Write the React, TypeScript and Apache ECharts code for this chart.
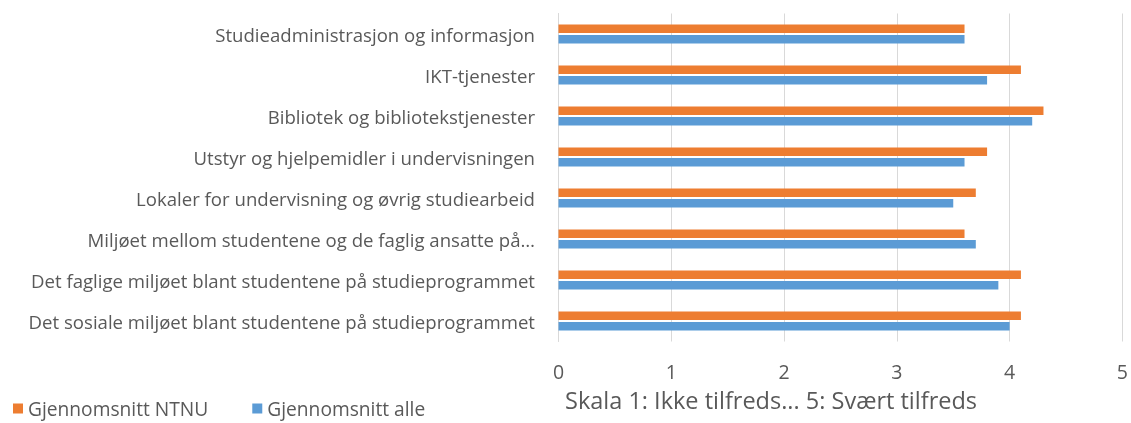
import React, { useEffect, useRef } from "react";
import * as echarts from "echarts";

const categories = [
  "Det sosiale miljøet blant studentene på studieprogrammet",
  "Det faglige miljøet blant studentene på studieprogrammet",
  "Miljøet mellom studentene og de faglig ansatte på…",
  "Lokaler for undervisning og øvrig studiearbeid",
  "Utstyr og hjelpemidler i undervisningen",
  "Bibliotek og bibliotekstjenester",
  "IKT-tjenester",
  "Studieadministrasjon og informasjon",
];
const ntnu = [4.1, 4.1, 3.6, 3.7, 3.8, 4.3, 4.1, 3.6];
const alle = [4.0, 3.9, 3.7, 3.5, 3.6, 4.2, 3.8, 3.6];
const seriesNames = ["Gjennomsnitt NTNU", "Gjennomsnitt alle"];
const axisTitle = "Skala 1: Ikke tilfreds... 5: Svært tilfreds";
const FONT = "Open Sans";
const TEXT = "#595959";

export default function App() {
  const ref = useRef<HTMLDivElement>(null);
  useEffect(() => {
    const chart = echarts.init(ref.current!, undefined, { renderer: "svg" });
    chart.setOption({
      animation: false,
      textStyle: { fontFamily: FONT, color: TEXT },
      title: {
        text: axisTitle,
        left: 565,
        top: 388,
        padding: 0,
        textStyle: { fontFamily: FONT, fontSize: 23.5, fontWeight: "normal", color: TEXT },
      },
      legend: {
        data: seriesNames,
        left: 13,
        top: 399,
        padding: 0,
        icon: "rect",
        itemWidth: 10,
        itemHeight: 10,
        itemGap: 44,
        textStyle: { fontFamily: FONT, fontSize: 19.2, color: TEXT },
      },
      grid: { left: 558.5, right: 8, top: 13.5, bottom: 81.5, containLabel: false },
      xAxis: {
        type: "value",
        min: 0,
        max: 5,
        interval: 1,
        axisLine: { show: false },
        axisTick: { show: false },
        splitLine: { show: true, lineStyle: { color: "#d9d9d9", width: 1 } },
        axisLabel: { fontFamily: FONT, fontSize: 19.5, color: TEXT, margin: 20 },
      },
      yAxis: {
        type: "category",
        data: categories,
        axisLine: { show: true, lineStyle: { color: "#d9d9d9" } },
        axisTick: { show: false },
        axisLabel: {
          fontFamily: FONT,
          fontSize: 18.6,
          color: TEXT,
          margin: 23.5,
        },
      },
      series: [
        {
          name: seriesNames[0],
          type: "bar",
          data: ntnu,
          barWidth: 8.5,
          barGap: "25%",
          itemStyle: { color: "#ED7D31" },
        },
        {
          name: seriesNames[1],
          type: "bar",
          data: alle,
          barWidth: 8.5,
          barGap: "25%",
          itemStyle: { color: "#5B9BD5" },
        },
      ],
    });
    return () => chart.dispose();
  }, []);
  return (
    <div
      ref={ref}
      style={{ position: "fixed", left: 0, top: 0, width: 1131, height: 423 }}
    />
  );
}
